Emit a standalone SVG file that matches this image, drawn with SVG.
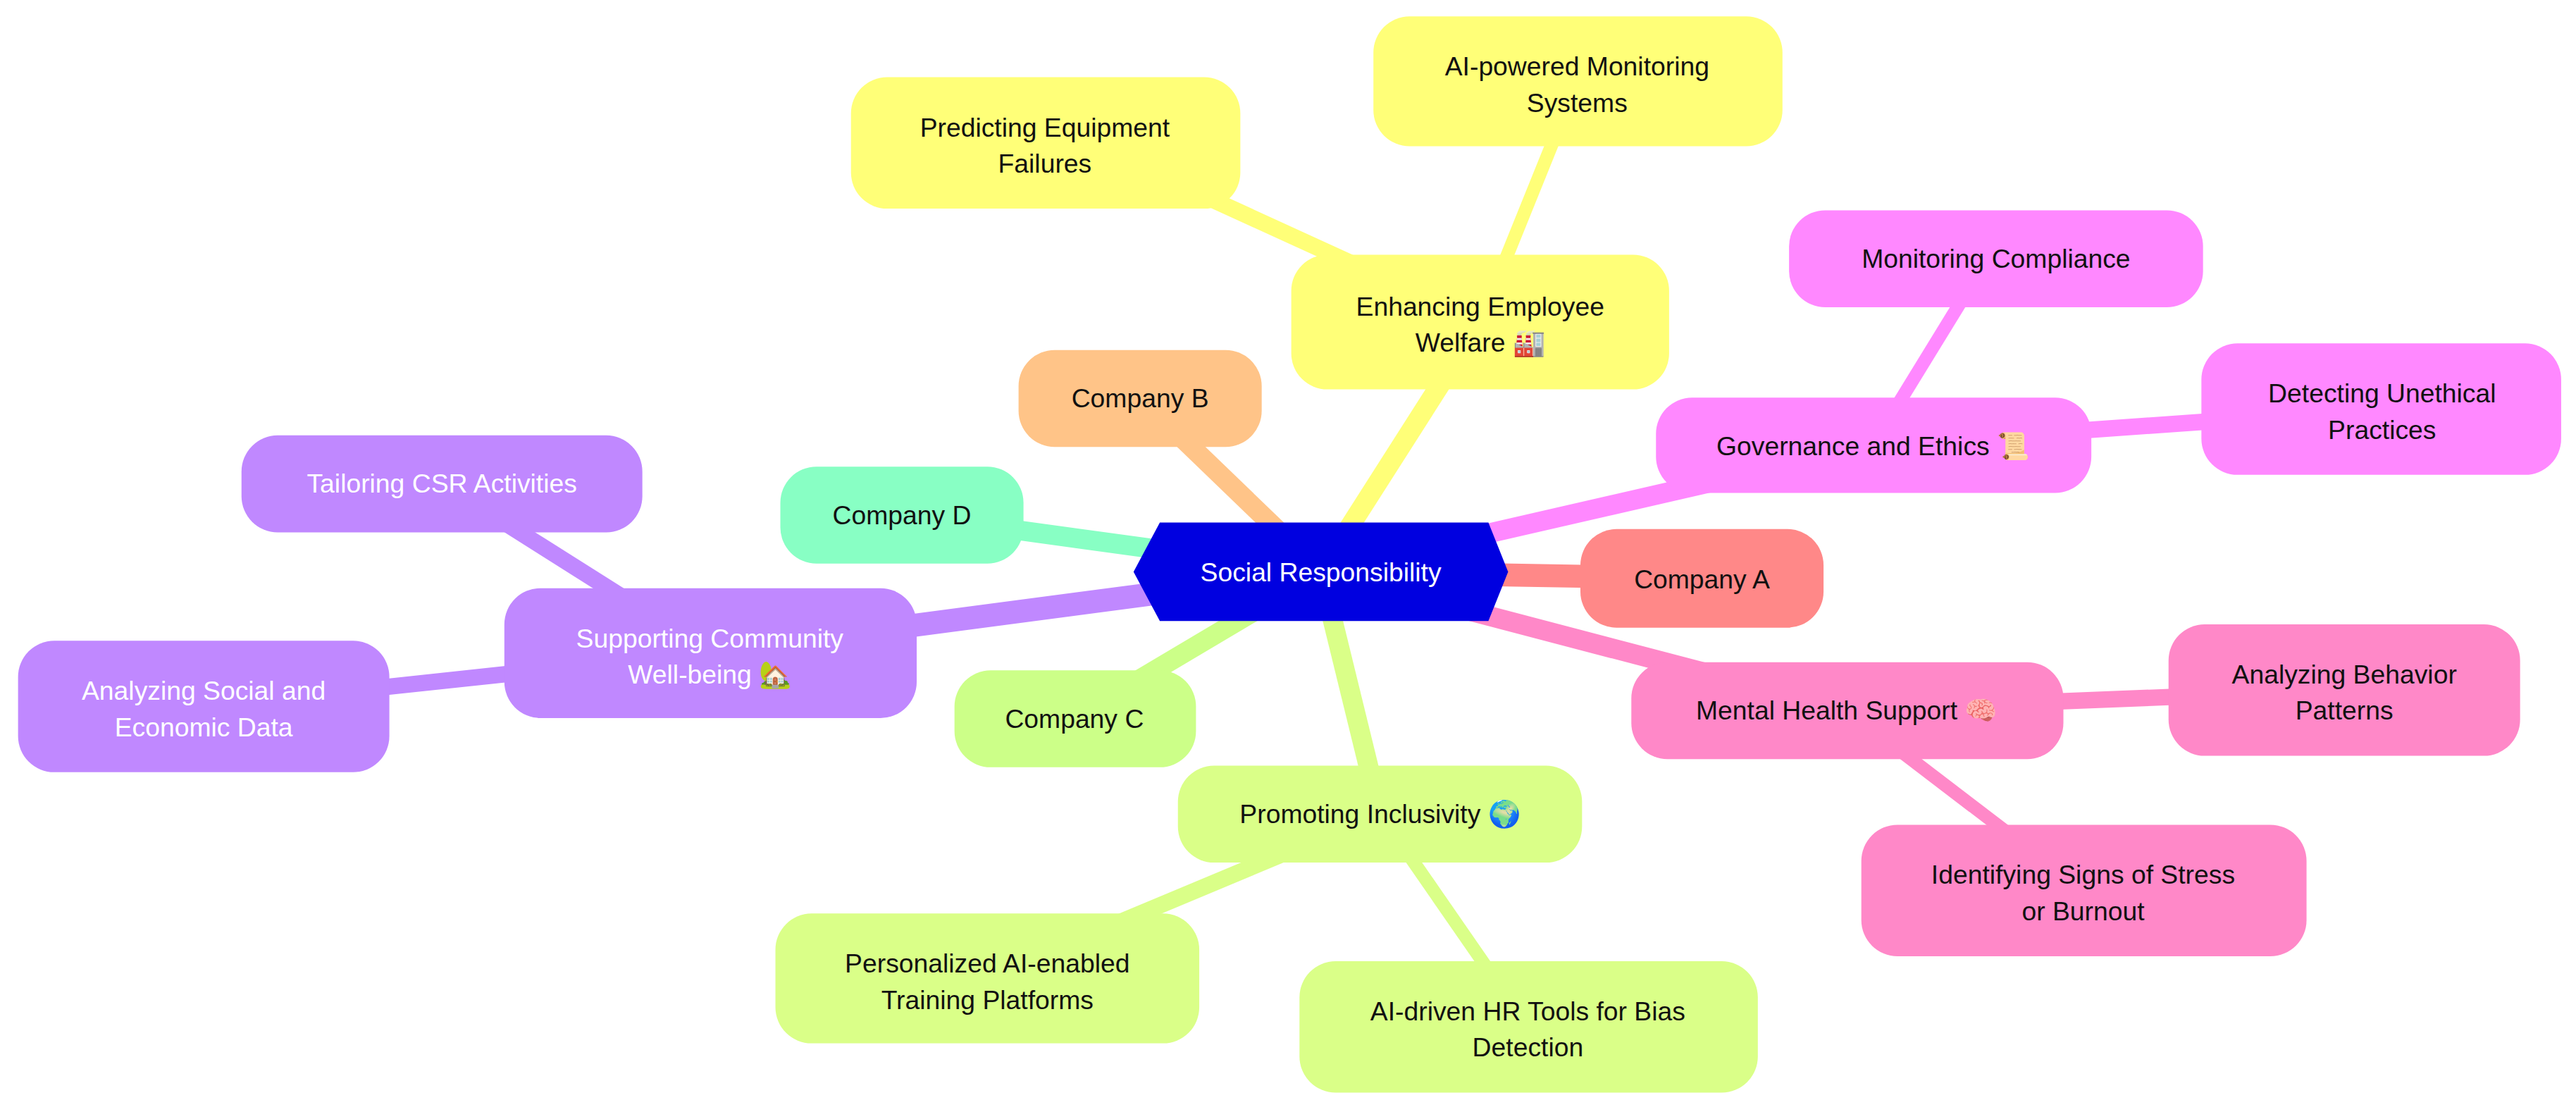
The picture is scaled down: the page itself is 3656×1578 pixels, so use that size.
<svg xmlns="http://www.w3.org/2000/svg" width="3656" height="1578" viewBox="0 0 3656 1578">
<style>
text{font-family:"Liberation Sans","DejaVu Sans",sans-serif;font-size:16px;text-anchor:middle;fill:#111}
.w{fill:#fff}
.e{stroke-linecap:butt;fill:none}
</style>
<rect width="3656" height="1578" fill="#fff"/>
<g transform="scale(2.3316)">
<g id="connectors">
<line class="e" x1="804" y1="348" x2="1036" y2="352" stroke="#ff8888" stroke-width="14"/>
<line class="e" x1="804" y1="348" x2="694" y2="242" stroke="#ffc488" stroke-width="12"/>
<line class="e" x1="804" y1="348" x2="549" y2="313" stroke="#88ffc4" stroke-width="12"/>
<line class="e" x1="804" y1="348" x2="654" y2="437" stroke="#ccff88" stroke-width="12"/>
<line class="e" x1="804" y1="348" x2="901" y2="196" stroke="#ffff78" stroke-width="12"/>
<line class="e" x1="804" y1="348" x2="1140" y2="271" stroke="#ff88ff" stroke-width="12"/>
<line class="e" x1="804" y1="348" x2="1124" y2="432" stroke="#ff88c8" stroke-width="12"/>
<line class="e" x1="804" y1="348" x2="840" y2="495" stroke="#daff88" stroke-width="12"/>
<line class="e" x1="804" y1="348" x2="432" y2="397" stroke="#c088ff" stroke-width="14"/>
<line class="e" x1="901" y1="196" x2="680" y2="95" stroke="#ffff78" stroke-width="10"/>
<line class="e" x1="901" y1="196" x2="960" y2="50" stroke="#ffff78" stroke-width="8"/>
<line class="e" x1="1140" y1="271" x2="1210" y2="157" stroke="#ff88ff" stroke-width="8"/>
<line class="e" x1="1140" y1="271" x2="1450" y2="249" stroke="#ff88ff" stroke-width="10"/>
<line class="e" x1="1124" y1="432" x2="1427" y2="420" stroke="#ff88c8" stroke-width="10"/>
<line class="e" x1="1124" y1="432" x2="1268" y2="542" stroke="#ff88c8" stroke-width="8"/>
<line class="e" x1="840" y1="495" x2="601" y2="595" stroke="#daff88" stroke-width="10"/>
<line class="e" x1="840" y1="495" x2="930" y2="625" stroke="#daff88" stroke-width="8"/>
<line class="e" x1="432" y1="397" x2="269" y2="294" stroke="#c088ff" stroke-width="10"/>
<line class="e" x1="432" y1="397" x2="124" y2="430" stroke="#c088ff" stroke-width="10"/>
</g>
<g id="company-a"><rect x="962" y="322" width="148" height="60" rx="22" fill="#ff8888"/><text x="1036" y="358">Company A</text></g>
<g id="company-b"><rect x="620" y="213" width="148" height="59" rx="22" fill="#ffc488"/><text x="694" y="248">Company B</text></g>
<g id="company-d"><rect x="475" y="284" width="148" height="59" rx="22" fill="#88ffc4"/><text x="549" y="319">Company D</text></g>
<g id="company-c"><rect x="581" y="408" width="147" height="59" rx="22" fill="#ccff88"/><text x="654" y="443">Company C</text></g>
<g id="welfare"><rect x="786" y="155" width="230" height="82" rx="22" fill="#ffff78"/><text x="901" y="192">Enhancing Employee</text><text x="901" y="214">Welfare 🏭</text></g>
<g id="predicting"><rect x="518" y="47" width="237" height="80" rx="22" fill="#ffff78"/><text x="636" y="83">Predicting Equipment</text><text x="636" y="105">Failures</text></g>
<g id="monitoring-systems"><rect x="836" y="10" width="249" height="79" rx="22" fill="#ffff78"/><text x="960" y="46">AI-powered Monitoring</text><text x="960" y="68">Systems</text></g>
<g id="governance"><rect x="1008" y="242" width="265" height="58" rx="22" fill="#ff88ff"/><text x="1140" y="277">Governance and Ethics 📜</text></g>
<g id="compliance"><rect x="1089" y="128" width="252" height="59" rx="22" fill="#ff88ff"/><text x="1215" y="163">Monitoring Compliance</text></g>
<g id="unethical"><rect x="1340" y="209" width="219" height="80" rx="22" fill="#ff88ff"/><text x="1450" y="245">Detecting Unethical</text><text x="1450" y="267">Practices</text></g>
<g id="mental"><rect x="993" y="403" width="263" height="59" rx="22" fill="#ff88c8"/><text x="1124" y="438">Mental Health Support 🧠</text></g>
<g id="behavior"><rect x="1320" y="380" width="214" height="80" rx="22" fill="#ff88c8"/><text x="1427" y="416">Analyzing Behavior</text><text x="1427" y="438">Patterns</text></g>
<g id="stress"><rect x="1133" y="502" width="271" height="80" rx="22" fill="#ff88c8"/><text x="1268" y="538">Identifying Signs of Stress</text><text x="1268" y="560">or Burnout</text></g>
<g id="inclusivity"><rect x="717" y="466" width="246" height="59" rx="22" fill="#daff88"/><text x="840" y="501">Promoting Inclusivity 🌍</text></g>
<g id="training"><rect x="472" y="556" width="258" height="79" rx="22" fill="#daff88"/><text x="601" y="592">Personalized AI-enabled</text><text x="601" y="614">Training Platforms</text></g>
<g id="hr-tools"><rect x="791" y="585" width="279" height="80" rx="22" fill="#daff88"/><text x="930" y="621">AI-driven HR Tools for Bias</text><text x="930" y="643">Detection</text></g>
<g id="community"><rect x="307" y="358" width="251" height="79" rx="22" fill="#c088ff"/><text class="w" x="432" y="394">Supporting Community</text><text class="w" x="432" y="416">Well-being 🏡</text></g>
<g id="csr"><rect x="147" y="265" width="244" height="59" rx="22" fill="#c088ff"/><text class="w" x="269" y="300">Tailoring CSR Activities</text></g>
<g id="social-data"><rect x="11" y="390" width="226" height="80" rx="22" fill="#c088ff"/><text class="w" x="124" y="426">Analyzing Social and</text><text class="w" x="124" y="448">Economic Data</text></g>
<g id="root"><polygon points="706,318 906,318 918,348 906,378 706,378 690,348" fill="#0000e0"/><text class="w" x="804" y="354">Social Responsibility</text></g>
</g>
</svg>
